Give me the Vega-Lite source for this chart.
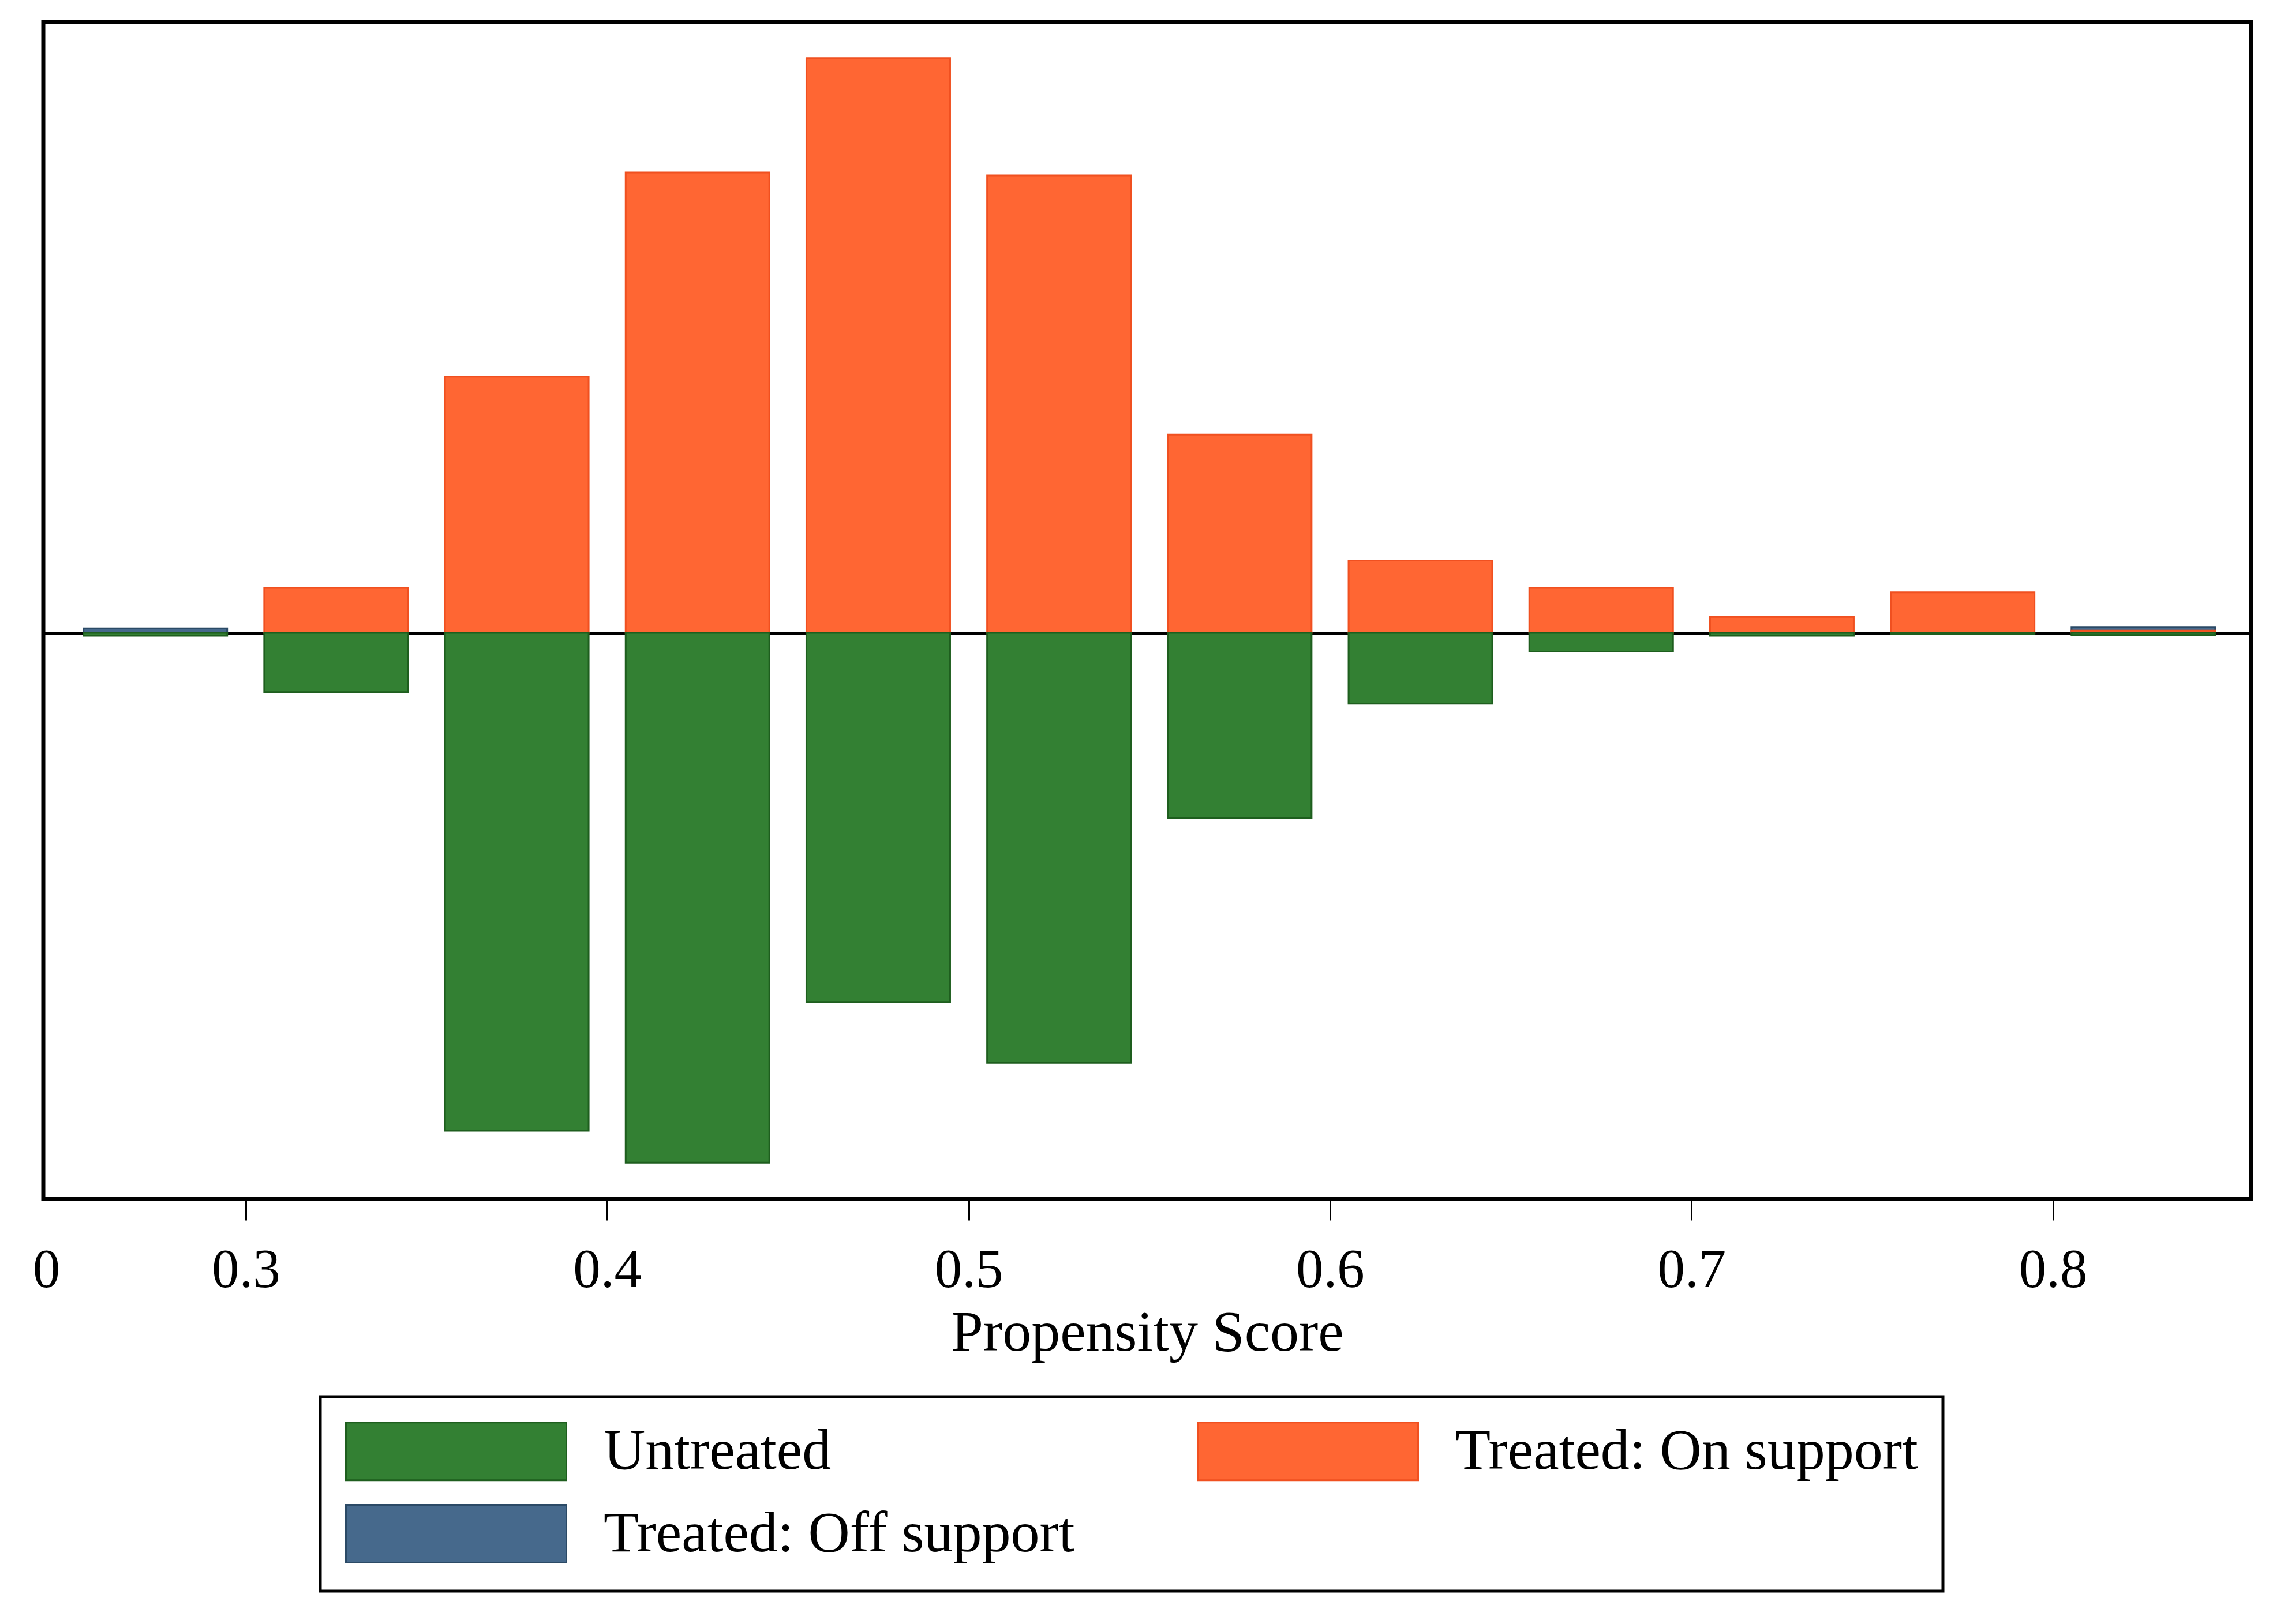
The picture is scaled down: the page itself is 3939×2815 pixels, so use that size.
{
  "$schema": "https://vega.github.io/schema/vega-lite/v6.json",
  "autosize": {"type": "none"},
  "width": 3826,
  "height": 2040,
  "padding": {"left": 75, "top": 38, "right": 38, "bottom": 737},
  "background": "white",
  "config": {
    "font": "Liberation Serif",
    "view": {"stroke": "black", "strokeWidth": 7}
  },
  "data": {
    "values": [
      {"ps": 0.275, "group": "Treated: Off support", "density": 3},
      {"ps": 0.825, "group": "Treated: Off support", "density": 4},
      {"ps": 0.325, "group": "Treated: On support", "density": 31},
      {"ps": 0.375, "group": "Treated: On support", "density": 177},
      {"ps": 0.425, "group": "Treated: On support", "density": 318},
      {"ps": 0.475, "group": "Treated: On support", "density": 397},
      {"ps": 0.525, "group": "Treated: On support", "density": 316},
      {"ps": 0.575, "group": "Treated: On support", "density": 137},
      {"ps": 0.625, "group": "Treated: On support", "density": 50},
      {"ps": 0.675, "group": "Treated: On support", "density": 31},
      {"ps": 0.725, "group": "Treated: On support", "density": 11},
      {"ps": 0.775, "group": "Treated: On support", "density": 28},
      {"ps": 0.825, "group": "Treated: On support", "density": 1.5},
      {"ps": 0.275, "group": "Untreated", "density": -2},
      {"ps": 0.325, "group": "Untreated", "density": -41},
      {"ps": 0.375, "group": "Untreated", "density": -344},
      {"ps": 0.425, "group": "Untreated", "density": -366},
      {"ps": 0.475, "group": "Untreated", "density": -255},
      {"ps": 0.525, "group": "Untreated", "density": -297},
      {"ps": 0.575, "group": "Untreated", "density": -128},
      {"ps": 0.625, "group": "Untreated", "density": -49},
      {"ps": 0.675, "group": "Untreated", "density": -13},
      {"ps": 0.725, "group": "Untreated", "density": -2},
      {"ps": 0.775, "group": "Untreated", "density": -1},
      {"ps": 0.825, "group": "Untreated", "density": -1.5}
    ]
  },
  "mark": {"type": "bar", "width": 249, "strokeWidth": 3},
  "encoding": {
    "x": {
      "field": "ps",
      "type": "quantitative",
      "scale": {"domain": [0.2448, 0.854], "nice": false, "zero": false},
      "axis": {
        "title": "Propensity Score",
        "titleFont": "Liberation Serif",
        "titleFontSize": 100,
        "titleFontWeight": "normal",
        "titleColor": "black",
        "titlePadding": 12,
        "values": [0.2448, 0.3, 0.4, 0.5, 0.6, 0.7, 0.8],
        "labelExpr": "datum.value < 0.25 ? '0' : format(datum.value, '.1f')",
        "labelFont": "Liberation Serif",
        "labelFontSize": 95,
        "labelColor": "black",
        "labelFlush": false,
        "labelPadding": 40,
        "labelOverlap": false,
        "tickSize": 37,
        "tickWidth": 3,
        "tickColor": "black",
        "tickOpacity": {"condition": {"test": "datum.value < 0.25", "value": 0}, "value": 1},
        "domain": false,
        "grid": false
      }
    },
    "y": {
      "field": "density",
      "type": "quantitative",
      "stack": null,
      "scale": {"domain": [-391, 422], "nice": false, "zero": false},
      "axis": {
        "values": [0],
        "grid": true,
        "gridColor": "black",
        "gridWidth": 5,
        "gridOpacity": 1,
        "labels": false,
        "ticks": false,
        "domain": false,
        "title": null
      }
    },
    "fill": {
      "field": "group",
      "type": "nominal",
      "scale": {
        "domain": ["Untreated", "Treated: Off support", "Treated: On support"],
        "range": ["#338033", "#46698C", "#FF6633"]
      },
      "legend": {
        "title": null,
        "orient": "none",
        "legendX": 480,
        "legendY": 2383,
        "columns": 2,
        "symbolType": "M-1,-1L6.64,-1L6.64,1L-1,1Z",
        "symbolSize": 10000,
        "symbolStrokeWidth": 0,
        "labelFont": "Liberation Serif",
        "labelFontSize": 100,
        "labelColor": "black",
        "labelLimit": 3000,
        "labelOffset": 345,
        "columnPadding": 206,
        "rowPadding": 30,
        "padding": 43,
        "strokeColor": "black",
        "fillColor": "white",
        "encode": {
          "legend": {"update": {"strokeWidth": {"value": 5}}},
          "symbols": {"update": {"stroke": {"scale": "stroke", "field": "value"}, "strokeWidth": {"value": 3}}}
        }
      }
    },
    "stroke": {
      "field": "group",
      "type": "nominal",
      "scale": {
        "domain": ["Untreated", "Treated: Off support", "Treated: On support"],
        "range": ["#1E5E1E", "#2B4A66", "#F05020"]
      },
      "legend": null
    }
  }
}
